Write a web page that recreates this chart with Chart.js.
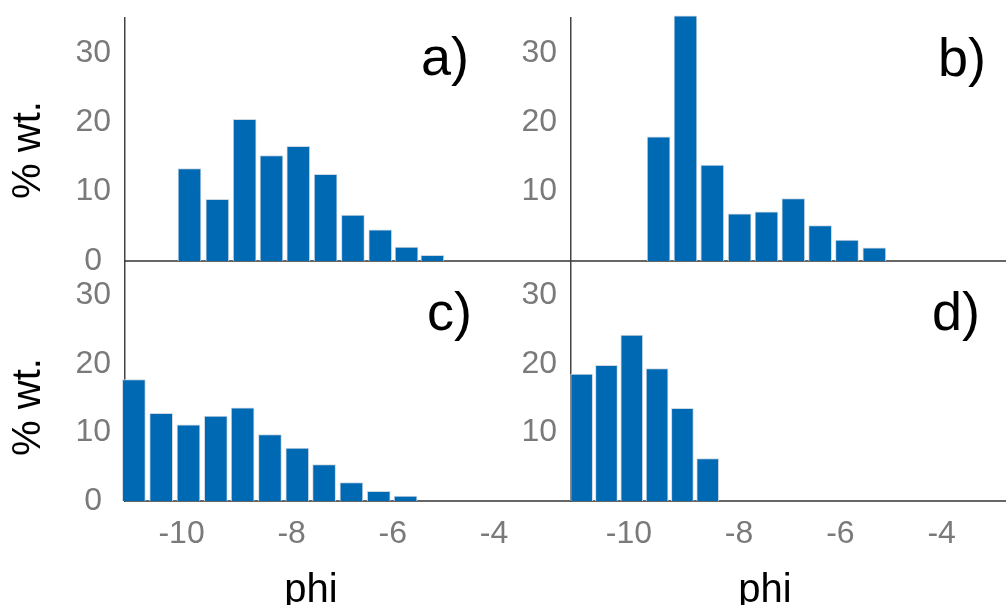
<!DOCTYPE html>
<html>
<head>
<meta charset="utf-8">
<script src="https://cdn.jsdelivr.net/npm/chart.js@4"></script>
<style>
  body { margin: 0; background: #fff; }
  #wrap { position: relative; width: 1006px; height: 605px; overflow: hidden; background: #fff; }
  canvas { position: absolute; }
</style>
</head>
<body>
<div id="wrap">
  <canvas id="panelA" width="571" height="345" style="left:0px;top:-45px"></canvas>
  <canvas id="panelB" width="526" height="345" style="left:480px;top:-45px"></canvas>
  <canvas id="panelC" width="571" height="389" style="left:0px;top:216px"></canvas>
  <canvas id="panelD" width="526" height="389" style="left:480px;top:216px"></canvas>
</div>
<script>
// bin centres (phi) and % wt. for each sample
const aPhi = [-10.30, -9.75, -9.21, -8.68, -8.15, -7.61, -7.07, -6.53, -6.01, -5.50];
const aWt  = [13.3, 8.9, 20.4, 15.2, 16.5, 12.5, 6.6, 4.5, 2.0, 0.8];

const bPhi = [-9.87, -9.34, -8.81, -8.27, -7.74, -7.21, -6.68, -6.15, -5.61];
const bWt  = [17.9, 35.3, 13.8, 6.8, 7.1, 9.0, 5.1, 3.0, 1.9];

const cPhi = [-11.40, -10.86, -10.32, -9.78, -9.25, -8.71, -8.17, -7.64, -7.10, -6.56, -6.03];
const cWt  = [17.7, 12.8, 11.1, 12.4, 13.6, 9.7, 7.7, 5.3, 2.7, 1.4, 0.7];

const dPhi = [-11.39, -10.90, -10.40, -9.90, -9.40, -8.90];
const dWt  = [18.5, 19.8, 24.2, 19.3, 13.5, 6.2];

// tick labels
const phiTicks = [-10, -8, -6, -4];
const wtTicksLeft = [0, 10, 20, 30];
const wtTicksRight = [10, 20, 30];

const barColor = '#0069B4';
const barEdge = '#cfd9e3';
const tickColor = '#7a7a7a';
const font = '"Liberation Sans", Arial, sans-serif';

Chart.defaults.font.family = font;

// draws the panel letter and the axis titles (positions given in page pixels)
const panelText = {
	id: 'panelText',
	afterDraw(chart, args, o) {
		const ctx = chart.ctx;
		const ox = chart.canvas.offsetLeft;
		const oy = chart.canvas.offsetTop;
		ctx.save();
		ctx.fillStyle = '#000';
		ctx.textBaseline = 'alphabetic';
		ctx.textAlign = 'left';
		ctx.font = '54px ' + font;
		ctx.fillText(o.letter, o.letterX - ox, o.letterY - oy);

		if (o.xTitle) {
			ctx.font = '40px ' + font;
			ctx.textAlign = 'center';
			ctx.fillText(o.xTitle, o.xTitleX - ox, o.xTitleY - oy);
		}
		if (o.yTitle) {
			ctx.font = '40px ' + font;
			ctx.translate(o.yTitleX - ox, o.yTitleY - oy);
			ctx.rotate(-Math.PI / 2);
			ctx.textAlign = 'center';
			ctx.textBaseline = 'middle';
			ctx.fillText(o.yTitle, 0, 0);
		}
		ctx.restore();
	}
};

function makePanel(id, phi, wt, cfg) {
	const points = phi.map((x, i) => ({ x: x, y: wt[i] }));

	return new Chart(document.getElementById(id), {
		type: 'bar',
		data: {
			datasets: [{
				data: points,
				backgroundColor: barColor,
				borderColor: barEdge,
				borderWidth: 1,
				barThickness: cfg.barWidth,
				clip: false
			}]
		},
		options: {
			responsive: false,
			animation: false,
			devicePixelRatio: 1,
			layout: {
				autoPadding: false,
				padding: { top: cfg.top, left: 0, right: 0, bottom: 0 }
			},
			plugins: {
				legend: { display: false },
				tooltip: { enabled: false },
				panelText: cfg.text
			},
			scales: {
				x: {
					type: 'linear',
					offset: false,
					min: cfg.xMin,
					max: cfg.xMax,
					grid: { display: false, drawTicks: false },
					border: { display: true, color: '#666', width: 2 },
					ticks: {
						display: cfg.showX,
						align: 'end',
						padding: 14,
						color: tickColor,
						font: { size: 32 },
						callback: v => String(v)
					},
					afterBuildTicks: s => { s.ticks = phiTicks.map(v => ({ value: v })); },
					afterFit: s => { s.height = cfg.xHeight; }
				},
				y: {
					min: 0,
					max: 35,
					grid: { display: false, drawTicks: false },
					border: { display: true, color: '#444', width: 1.5 },
					ticks: {
						crossAlign: 'center',
						padding: 14,
						color: tickColor,
						font: { size: 32 },
						callback: v => String(v)
					},
					afterBuildTicks: s => { s.ticks = cfg.yTicks.map(v => ({ value: v })); },
					afterFit: s => { s.width = cfg.yWidth; }
				}
			}
		},
		plugins: [panelText]
	});
}

// top left
makePanel('panelA', aPhi, aWt, {
	top: 63, xHeight: 39, yWidth: 125, xMin: -11.575, xMax: -2.76,
	showX: false, barWidth: 23, yTicks: wtTicksLeft,
	text: { letter: 'a)', letterX: 421, letterY: 75, yTitle: '% wt.', yTitleX: 29, yTitleY: 150 }
});

// top right
makePanel('panelB', bPhi, bWt, {
	top: 63, xHeight: 39, yWidth: 91, xMin: -11.6, xMax: -3.01,
	showX: false, barWidth: 23, yTicks: wtTicksRight,
	text: { letter: 'b)', letterX: 938, letterY: 76 }
});

// bottom left
makePanel('panelC', cPhi, cWt, {
	top: 45, xHeight: 104, yWidth: 125, xMin: -11.575, xMax: -2.76,
	showX: true, barWidth: 23, yTicks: wtTicksLeft,
	text: { letter: 'c)', letterX: 427, letterY: 330, yTitle: '% wt.', yTitleX: 29, yTitleY: 407,
		xTitle: 'phi', xTitleX: 311, xTitleY: 602 }
});

// bottom right
makePanel('panelD', dPhi, dWt, {
	top: 45, xHeight: 104, yWidth: 91, xMin: -11.6, xMax: -3.01,
	showX: true, barWidth: 22, yTicks: wtTicksRight,
	text: { letter: 'd)', letterX: 932, letterY: 330, xTitle: 'phi', xTitleX: 765, xTitleY: 602 }
});
</script>
</body>
</html>
